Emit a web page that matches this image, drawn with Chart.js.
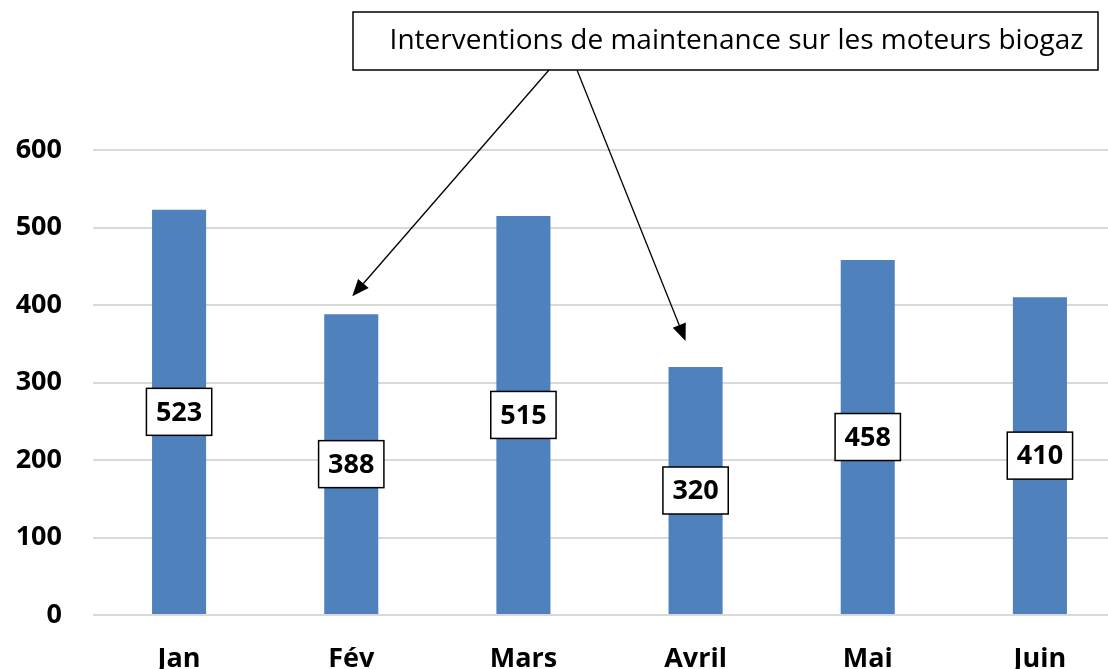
<!DOCTYPE html>
<html>
<head>
<meta charset="utf-8">
<script src="https://cdn.jsdelivr.net/npm/chart.js@4/dist/chart.umd.min.js"></script>
<style>
  body { margin: 0; background: #fff; overflow: hidden; }
  #wrap { width: 1108px; height: 669px; overflow: hidden; position: relative; }
</style>
</head>
<body>
<div id="wrap">
  <canvas id="moteurs" width="1126" height="690"></canvas>
</div>
<script>
//data of the chart
var months = ['Jan', 'Fév', 'Mars', 'Avril', 'Mai', 'Juin'];
var interventions = [523, 388, 515, 320, 458, 410];
var yTicks = [0, 100, 200, 300, 400, 500, 600];
var calloutText = 'Interventions de maintenance sur les moteurs biogaz';
//months pointed by the callout arrows
var arrowMonths = ['Fév', 'Avril'];

var barColor = '#4F81BD';
var gridColor = '#D9D9D9';

//white boxes with the value in the middle of each bar
var valueBoxes = {
  id: 'valueBoxes',
  afterDatasetsDraw: function(chart) {
    var ctx = chart.ctx;
    var meta = chart.getDatasetMeta(0);
    ctx.save();
    ctx.font = 'bold 27px "Open Sans"';
    ctx.textAlign = 'center';
    ctx.textBaseline = 'middle';
    meta.data.forEach(function(bar, i) {
      var txt = String(interventions[i]);
      var w = ctx.measureText(txt).width + 19;
      var h = 47;
      var cy = (bar.y + bar.base) / 2;
      ctx.fillStyle = '#fff';
      ctx.fillRect(bar.x - w / 2, cy - h / 2, w, h);
      ctx.lineWidth = 1.5;
      ctx.strokeStyle = '#000';
      ctx.strokeRect(bar.x - w / 2, cy - h / 2, w, h);
      ctx.fillStyle = '#000';
      ctx.fillText(txt, bar.x, cy + 1);
    });
    ctx.restore();
  }
};

//draw an arrow with a filled head
function drawArrow(ctx, x1, y1, x2, y2) {
  var a = Math.atan2(y2 - y1, x2 - x1);
  var len = 17, half = 7;
  var bx = x2 - len * Math.cos(a), by = y2 - len * Math.sin(a);
  ctx.beginPath();
  ctx.moveTo(x1, y1);
  ctx.lineTo(bx, by);
  ctx.stroke();
  ctx.beginPath();
  ctx.moveTo(x2, y2);
  ctx.lineTo(bx + half * Math.sin(a), by - half * Math.cos(a));
  ctx.lineTo(bx - half * Math.sin(a), by + half * Math.cos(a));
  ctx.closePath();
  ctx.fill();
}

//callout box at the top with two arrows
var callout = {
  id: 'callout',
  afterDraw: function(chart) {
    var ctx = chart.ctx;
    var meta = chart.getDatasetMeta(0);
    var box = { x: 353, y: 12, w: 745, h: 58 };
    ctx.save();
    ctx.fillStyle = '#fff';
    ctx.fillRect(box.x, box.y, box.w, box.h);
    ctx.lineWidth = 1.5;
    ctx.strokeStyle = '#000';
    ctx.strokeRect(box.x, box.y, box.w, box.h);
    ctx.fillStyle = '#000';
    ctx.font = '28px "Open Sans"';
    ctx.textAlign = 'center';
    ctx.textBaseline = 'middle';
    ctx.fillText(calloutText, box.x + box.w / 2 + 11, box.y + box.h / 2);

    //arrows go from the bottom of the box to above the bars
    var starts = [549, 577];
    var gaps = [[1, 18], [-10, 26]];
    ctx.lineWidth = 1.3;
    arrowMonths.forEach(function(m, k) {
      var bar = meta.data[months.indexOf(m)];
      drawArrow(ctx, starts[k], box.y + box.h, bar.x + gaps[k][0], bar.y - gaps[k][1]);
    });
    ctx.restore();
  }
};

var config = {
  type: 'bar',
  data: {
    labels: months,
    datasets: [{
      data: interventions,
      backgroundColor: barColor,
      borderWidth: 0,
      categoryPercentage: 1,
      barPercentage: 0.314
    }]
  },
  options: {
    responsive: false,
    animation: false,
    layout: { padding: { top: 150, left: 0, right: 0, bottom: 0 } },
    plugins: {
      legend: { display: false },
      tooltip: { enabled: false },
      title: { display: false }
    },
    scales: {
      x: {
        grid: { display: false },
        border: { display: false },
        ticks: {
          color: '#000',
          padding: 20,
          font: { family: 'Open Sans', size: 27, weight: 'bold' }
        },
        afterFit: function(scale) { scale.height = 75; }
      },
      y: {
        min: yTicks[0],
        max: yTicks[yTicks.length - 1],
        grid: { color: gridColor, lineWidth: 2, drawTicks: false },
        border: { display: false },
        ticks: {
          stepSize: yTicks[1] - yTicks[0],
          color: '#000',
          padding: 31,
          font: { family: 'Open Sans', size: 27, weight: 'bold' }
        },
        afterFit: function(scale) { scale.width = 93; }
      }
    }
  },
  plugins: [valueBoxes, callout]
};

var chart = new Chart(document.getElementById('moteurs'), config);
</script>
</body>
</html>
